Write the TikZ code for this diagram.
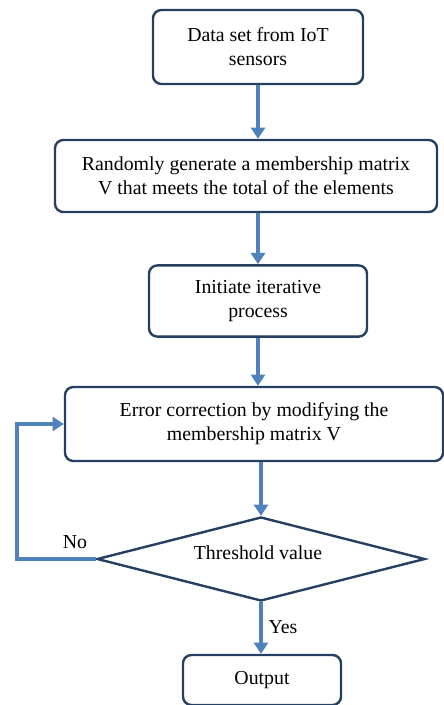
\documentclass[tikz,border=0pt]{standalone}
\usepackage{fontspec}
\setmainfont{Liberation Serif}
\usetikzlibrary{arrows.meta,shapes.geometric}
\definecolor{boxline}{HTML}{243F60}
\definecolor{flowblue}{HTML}{4F81BD}

\begin{document}
\begin{tikzpicture}[
		x=0.025cm, y=-0.025cm,
		every node/.style={font=\fontsize{14.1}{17}\selectfont, inner sep=0pt},
		stepbox/.style={rectangle, rounded corners=6pt, draw=boxline, line width=1.7pt, align=center},
		decision/.style={diamond, draw=boxline, line width=1.7pt, aspect=3.9},
		flow/.style={draw=flowblue, line width=2.6pt, -{Triangle[width=10pt,length=8pt]}}
	]
  \useasboundingbox (0,0) rectangle (444,705);
  \node (data) [stepbox, minimum width=5.25cm, minimum height=1.85cm] at (258, 47) {Data set from IoT\\sensors};
  \node (random) [stepbox, minimum width=9.55cm, minimum height=1.8cm] at (246, 176) {Randomly generate a membership matrix\\V that meets the total of the elements};
  \node (init) [stepbox, minimum width=5.45cm, minimum height=1.78cm] at (258, 301) {Initiate iterative\\process};
  \node (error) [stepbox, minimum width=9.45cm, minimum height=1.85cm] at (254, 424) {Error correction by modifying the\\membership matrix V};
  \node (check) [decision, minimum width=8.2cm, minimum height=2.1cm] at (261, 559) {};
  \node (check_label) at (258, 553) {Threshold value};
  \node (output) [stepbox, minimum width=3.95cm, minimum height=1.25cm] at (262, 680) {Output};
  \node (no) at (75, 542) {No};
  \node (yes) at (283, 627) {Yes};
  \draw [flow] (data.south) -- (data.south |- random.north);
  \draw [flow] (init |- random.south) -- (init.north);
  \draw [flow] (init.south) -- (init.south |- error.north);
  \draw [flow] (check |- error.south) -- (check.north);
  \draw [flow] (check.south) -- (check.south |- output.north);
  \draw [flow] (check.west) -- ++(-79, 0) |- (error.west);
\end{tikzpicture}
\end{document}
